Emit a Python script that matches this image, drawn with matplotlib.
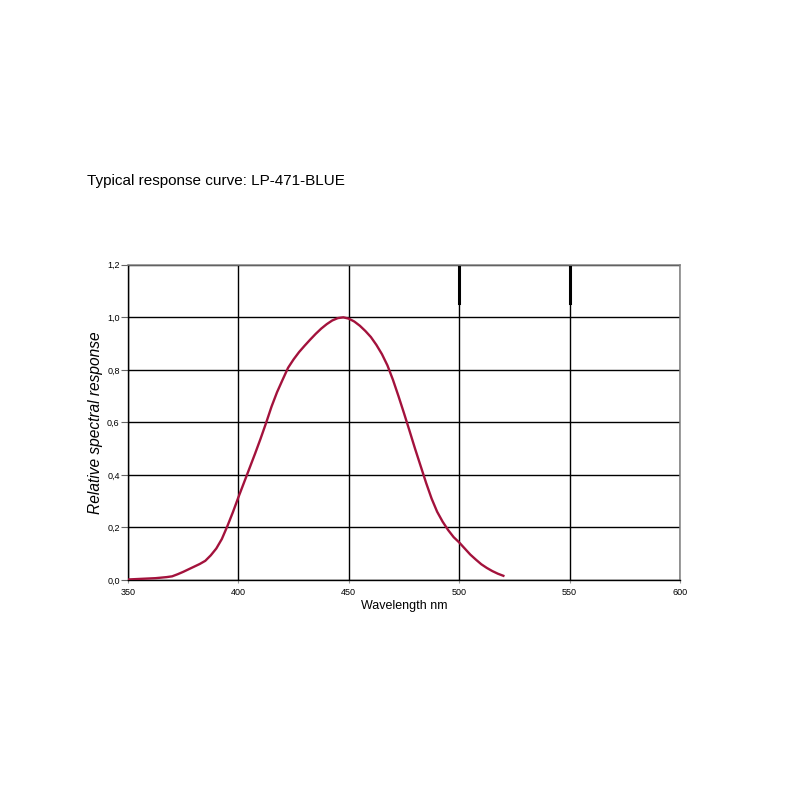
import numpy as np
import matplotlib.pyplot as plt
from matplotlib.ticker import FuncFormatter

# wavelength (nm) and relative spectral response (2.5 nm steps)
wavelength = [350.0, 352.5, 355.0, 357.5, 360.0, 362.5, 365.0, 367.5, 370.0, 372.5,
              375.0, 377.5, 380.0, 382.5, 385.0, 387.5, 390.0, 392.5, 395.0, 397.5,
              400.0, 402.5, 405.0, 407.5, 410.0, 412.5, 415.0, 417.5, 420.0, 422.5,
              425.0, 427.5, 430.0, 432.5, 435.0, 437.5, 440.0, 442.5, 445.0, 447.5,
              450.0, 452.5, 455.0, 457.5, 460.0, 462.5, 465.0, 467.5, 470.0, 472.5,
              475.0, 477.5, 480.0, 482.5, 485.0, 487.5, 490.0, 492.5, 495.0, 497.5,
              500.0, 502.5, 505.0, 507.5, 510.0, 512.5, 515.0, 517.5, 520.0]
response = [0.002, 0.003, 0.004, 0.005, 0.006, 0.007, 0.009, 0.011, 0.014, 0.022,
            0.031, 0.041, 0.051, 0.061, 0.073, 0.094, 0.120, 0.156, 0.205, 0.258,
            0.315, 0.370, 0.425, 0.480, 0.537, 0.597, 0.660, 0.715, 0.762, 0.808,
            0.840, 0.868, 0.892, 0.915, 0.937, 0.957, 0.974, 0.988, 0.997, 1.000,
            0.995, 0.984, 0.968, 0.948, 0.925, 0.895, 0.860, 0.817, 0.762, 0.700,
            0.635, 0.568, 0.500, 0.435, 0.370, 0.310, 0.260, 0.222, 0.190, 0.163,
            0.143, 0.120, 0.097, 0.078, 0.060, 0.046, 0.034, 0.024, 0.016]

x_ticks = [350, 400, 450, 500, 550, 600]
y_ticks = [0.0, 0.2, 0.4, 0.6, 0.8, 1.0, 1.2]

plt.rcParams['font.family'] = ['Liberation Sans', 'DejaVu Sans']

fig = plt.figure(figsize=(8, 8), dpi=100)
ax = fig.add_axes([0.16, 0.275, 0.69, 0.394])

ax.plot(wavelength, response, color='#a3123c', lw=1.7, zorder=3,
        solid_joinstyle='round')

ax.set_xlim(350, 600)
ax.set_ylim(0, 1.2)
ax.set_xticks(x_ticks)
ax.set_yticks(y_ticks)
ax.yaxis.set_major_formatter(FuncFormatter(lambda v, p: ('%.1f' % v).replace('.', ',')))
ax.grid(True, color='black', lw=1.0)
ax.set_axisbelow(True)

# short heavy grid stubs near the top edge, as in the scanned original
for xv in x_ticks[3:5]:
    ax.axvline(xv, ymin=0.88, ymax=1.0, color='black', lw=2.2, zorder=2)

for s in ['top', 'right']:
    ax.spines[s].set_color('#808080')
    ax.spines[s].set_linewidth(1.1)
for s in ['left', 'bottom']:
    ax.spines[s].set_color('black')
    ax.spines[s].set_linewidth(1.0)

ax.tick_params(axis='y', length=5, width=0.8, color='#666666', labelsize=6.5, pad=1)
ax.tick_params(axis='x', length=2, width=0.8, color='#999999', labelsize=6.5, pad=4)

ax.set_xlabel('Wavelength nm', fontsize=9, labelpad=2,
              family=['Liberation Sans Narrow', 'Liberation Sans', 'DejaVu Sans'])
ax.set_ylabel('Relative spectral response', fontsize=11.2, style='italic', labelpad=3)

fig.text(0.109, 0.774, 'Typical response curve: LP-471-BLUE', fontsize=11, va='center')

fig.savefig('out.png', dpi=100)
